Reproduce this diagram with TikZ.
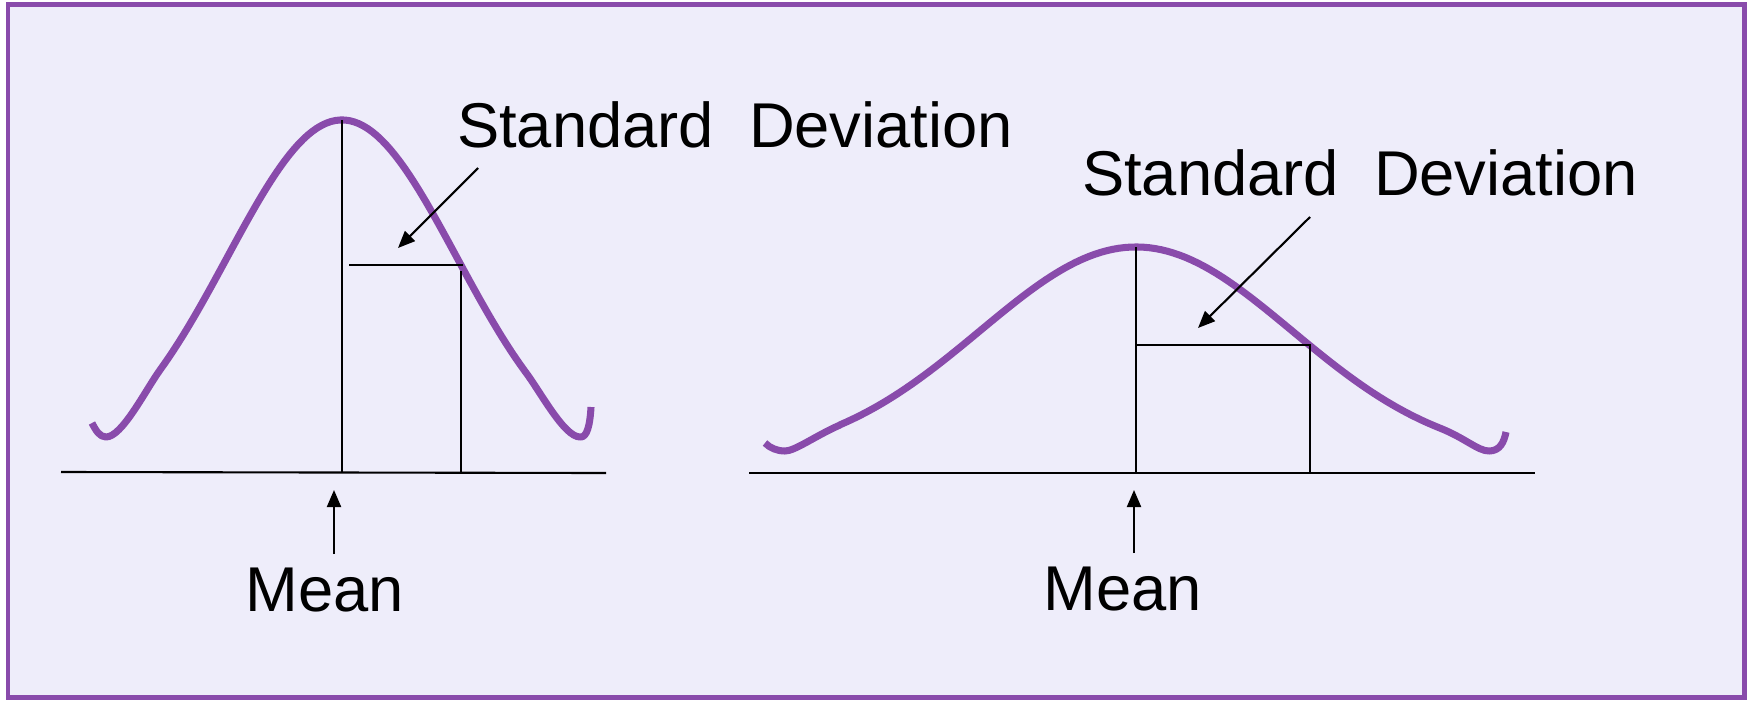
\documentclass[tikz,border=0pt]{standalone}
\usepackage{fontspec}
\setmainfont{Liberation Sans}
\usetikzlibrary{arrows.meta}

\definecolor{bellpurple}{RGB}{137,75,171}
\definecolor{panelbg}{RGB}{238,237,250}

\begin{document}
\begin{tikzpicture}[x=0.01cm, y=-0.01cm, line width=0.6pt,
  bell/.style={bellpurple, line width=2pt, line join=round},
  pointer/.style={-{Triangle[length=1.7mm, width=1.4mm]}},
  caption/.style={font=\fontsize{18}{21}\selectfont, inner sep=0pt}]

  % Panel
  \useasboundingbox (0,0) rectangle (1749,700);
  \fill[white] (0,0) rectangle (1749,700);
  \draw[bellpurple, fill=panelbg, line width=1.4pt] (8,4.5) rectangle (1744.5,697.5);

  % Narrow curve (left)
  \draw[bell] (92,423) .. controls (96,431) and (100,437) .. (106,437)
    .. controls (122,437) and (145,391) .. (160,370)
    -- plot[domain=160:525, samples=80] (\x,{470-350*exp(-0.5*((\x-342)/115)^2)})
    .. controls (540,391) and (564,437) .. (580,437)
    .. controls (587,438) and (590,425) .. (591,407);

  \coordinate (axLa) at (61,472);   \coordinate (axLb) at (606,473);
  \coordinate (meanLtop) at (342,120); \coordinate (meanLbot) at (342,472);
  \coordinate (sdLa) at (349,265);  \coordinate (sdLb) at (463,265);
  \coordinate (sdLtop) at (461,271); \coordinate (sdLbot) at (461,472);
  \draw (axLa) -- (axLb);
  \draw (meanLtop) -- (meanLbot);
  \draw (sdLa) -- (sdLb);
  \draw (sdLtop) -- (sdLbot);

  \node[caption, anchor=base west] (sdL) at (456,147) {Standard\ \ Deviation};
  \node[caption, anchor=base] (meanL) at (325,611) {Mean};
  \coordinate (sdLtail) at (478,168);  \coordinate (sdLtip) at (398,248);
  \coordinate (meanLtail) at (334,554); \coordinate (meanLtip) at (334,490);
  \draw[pointer] (sdLtail) -- (sdLtip);
  \draw[pointer] (meanLtail) -- (meanLtip);

  % Wide curve (right)
  \draw[bell] (765,443) .. controls (770,448) and (777,451) .. (785,451)
    .. controls (795,451) and (815,436) .. (840,425)
    -- plot[domain=840:1440, samples=100] (\x,{460-213*exp(-0.5*((\x-1136)/156)^2)})
    .. controls (1465,438) and (1478,451) .. (1489,451)
    .. controls (1500,451) and (1504,442) .. (1506,432);

  \coordinate (axRa) at (749,473);  \coordinate (axRb) at (1535,473);
  \coordinate (meanRtop) at (1136,247); \coordinate (meanRbot) at (1136,473);
  \coordinate (sdRa) at (1136,345); \coordinate (sdRb) at (1310,345);
  \coordinate (sdRbot) at (1310,473);
  \draw (axRa) -- (axRb);
  \draw (meanRtop) -- (meanRbot);
  \draw (sdRa) -- (sdRb) -- (sdRbot);

  \node[caption, anchor=base west] (sdR) at (1081,195) {Standard\ \ Deviation};
  \node[caption, anchor=base] (meanR) at (1123,610) {Mean};
  \coordinate (sdRtail) at (1310,217);  \coordinate (sdRtip) at (1198,328);
  \coordinate (meanRtail) at (1134,553); \coordinate (meanRtip) at (1134,490);
  \draw[pointer] (sdRtail) -- (sdRtip);
  \draw[pointer] (meanRtail) -- (meanRtip);

\end{tikzpicture}
\end{document}
